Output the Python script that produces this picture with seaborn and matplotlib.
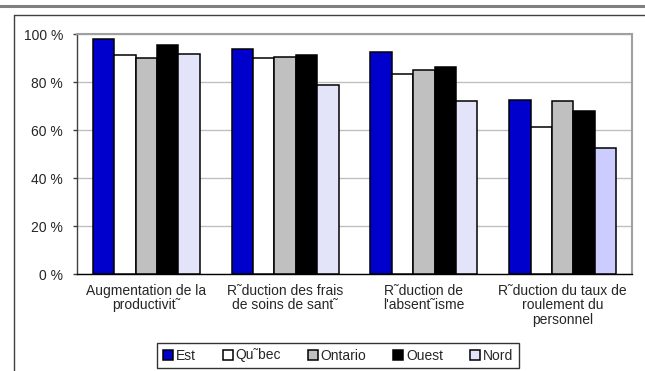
import numpy as np
import pandas as pd
import matplotlib
matplotlib.use('Agg')
import matplotlib.pyplot as plt
import seaborn as sns
from matplotlib.lines import Line2D

sns.set_style('white')
plt.rcParams['font.family'] = ['Liberation Sans', 'DejaVu Sans']

categories = ['Augmentation de la\nproductivit˜',
              'R˜duction des frais\nde soins de sant˜',
              'R˜duction de\nl\'absent˜isme',
              'R˜duction du taux de\nroulement du\npersonnel']
regions = ['Est', 'Qu˜bec', 'Ontario', 'Ouest', 'Nord']
est = [98, 93.6, 92.4, 72.5]
quebec = [91.2, 90, 83.3, 61.4]
ontario = [90, 90.3, 85.1, 72]
ouest = [95.4, 91.4, 86.3, 67.9]
nord = [91.5, 78.8, 71.9, 52.6]
y_ticks = [0, 20, 40, 60, 80, 100]
y_labels = ['0 %', '20 %', '40 %', '60 %', '80 %', '100 %']

colors = {'Est': '#0000CC', 'Qu˜bec': '#FFFFFF', 'Ontario': '#C0C0C0',
          'Ouest': '#000000', 'Nord': '#E3E3FA'}

df = pd.DataFrame({'categorie': categories * 5,
                   'region': np.repeat(regions, 4),
                   'valeur': est + quebec + ontario + ouest + nord})

W, H = 645, 371
fig = plt.figure(figsize=(W / 100, H / 100), dpi=100)
ax = fig.add_axes([77 / W, (H - 274) / H, 555 / W, 240 / H])

sns.barplot(data=df, x='categorie', y='valeur', hue='region', hue_order=regions,
            palette=colors, saturation=1, edgecolor='black', linewidth=1.1, width=0.77,
            gap=0, ax=ax, legend=True, zorder=3)
# last Nord bar is a touch darker in the original
ax.containers[4][3].set_facecolor('#CCCCFF')

ax.set_ylim(0, 100)
ax.set_xlim(-0.5, 3.5)
ax.set_yticks(y_ticks)
ax.set_yticklabels(y_labels)
ax.set_xlabel('')
ax.set_ylabel('')
ax.yaxis.grid(True, color='#C0C0C0', linewidth=1, zorder=0)
ax.set_axisbelow(True)
ax.tick_params(axis='y', labelsize=10, length=3, width=1, color='#404040', pad=7, left=True)
ax.tick_params(axis='x', labelsize=10, length=0, pad=7)
for t in ax.get_xticklabels():
    t.set_linespacing(1.05)
for side in ['top', 'right']:
    ax.spines[side].set_color('#A0A0A0')
    ax.spines[side].set_linewidth(1.5)
ax.spines['left'].set_color('#404040')
ax.spines['bottom'].set_color('#000000')
ax.spines['left'].set_linewidth(1)
ax.spines['bottom'].set_linewidth(1)

ax.legend(loc='center', bbox_to_anchor=(338 / W, (H - 355.5) / H), bbox_transform=fig.transFigure,
          ncol=5, fontsize=10, frameon=True, fancybox=False, edgecolor='black',
          handlelength=0.75, handleheight=0.75, handletextpad=0.2, columnspacing=1.9,
          borderpad=0.4, title=None).get_frame().set_linewidth(1)

# outer frame of the original document
fig.add_artist(Line2D([0, 1], [1 - 6 / H, 1 - 6 / H], color='#808080', linewidth=2.2, transform=fig.transFigure))
fig.add_artist(Line2D([14 / W, 1], [1 - 14.5 / H, 1 - 14.5 / H], color='#404040', linewidth=1, transform=fig.transFigure))
fig.add_artist(Line2D([14 / W, 14 / W], [1 - 14.5 / H, 0], color='#404040', linewidth=1, transform=fig.transFigure))

fig.savefig('out.png', dpi=100)
plt.close()
